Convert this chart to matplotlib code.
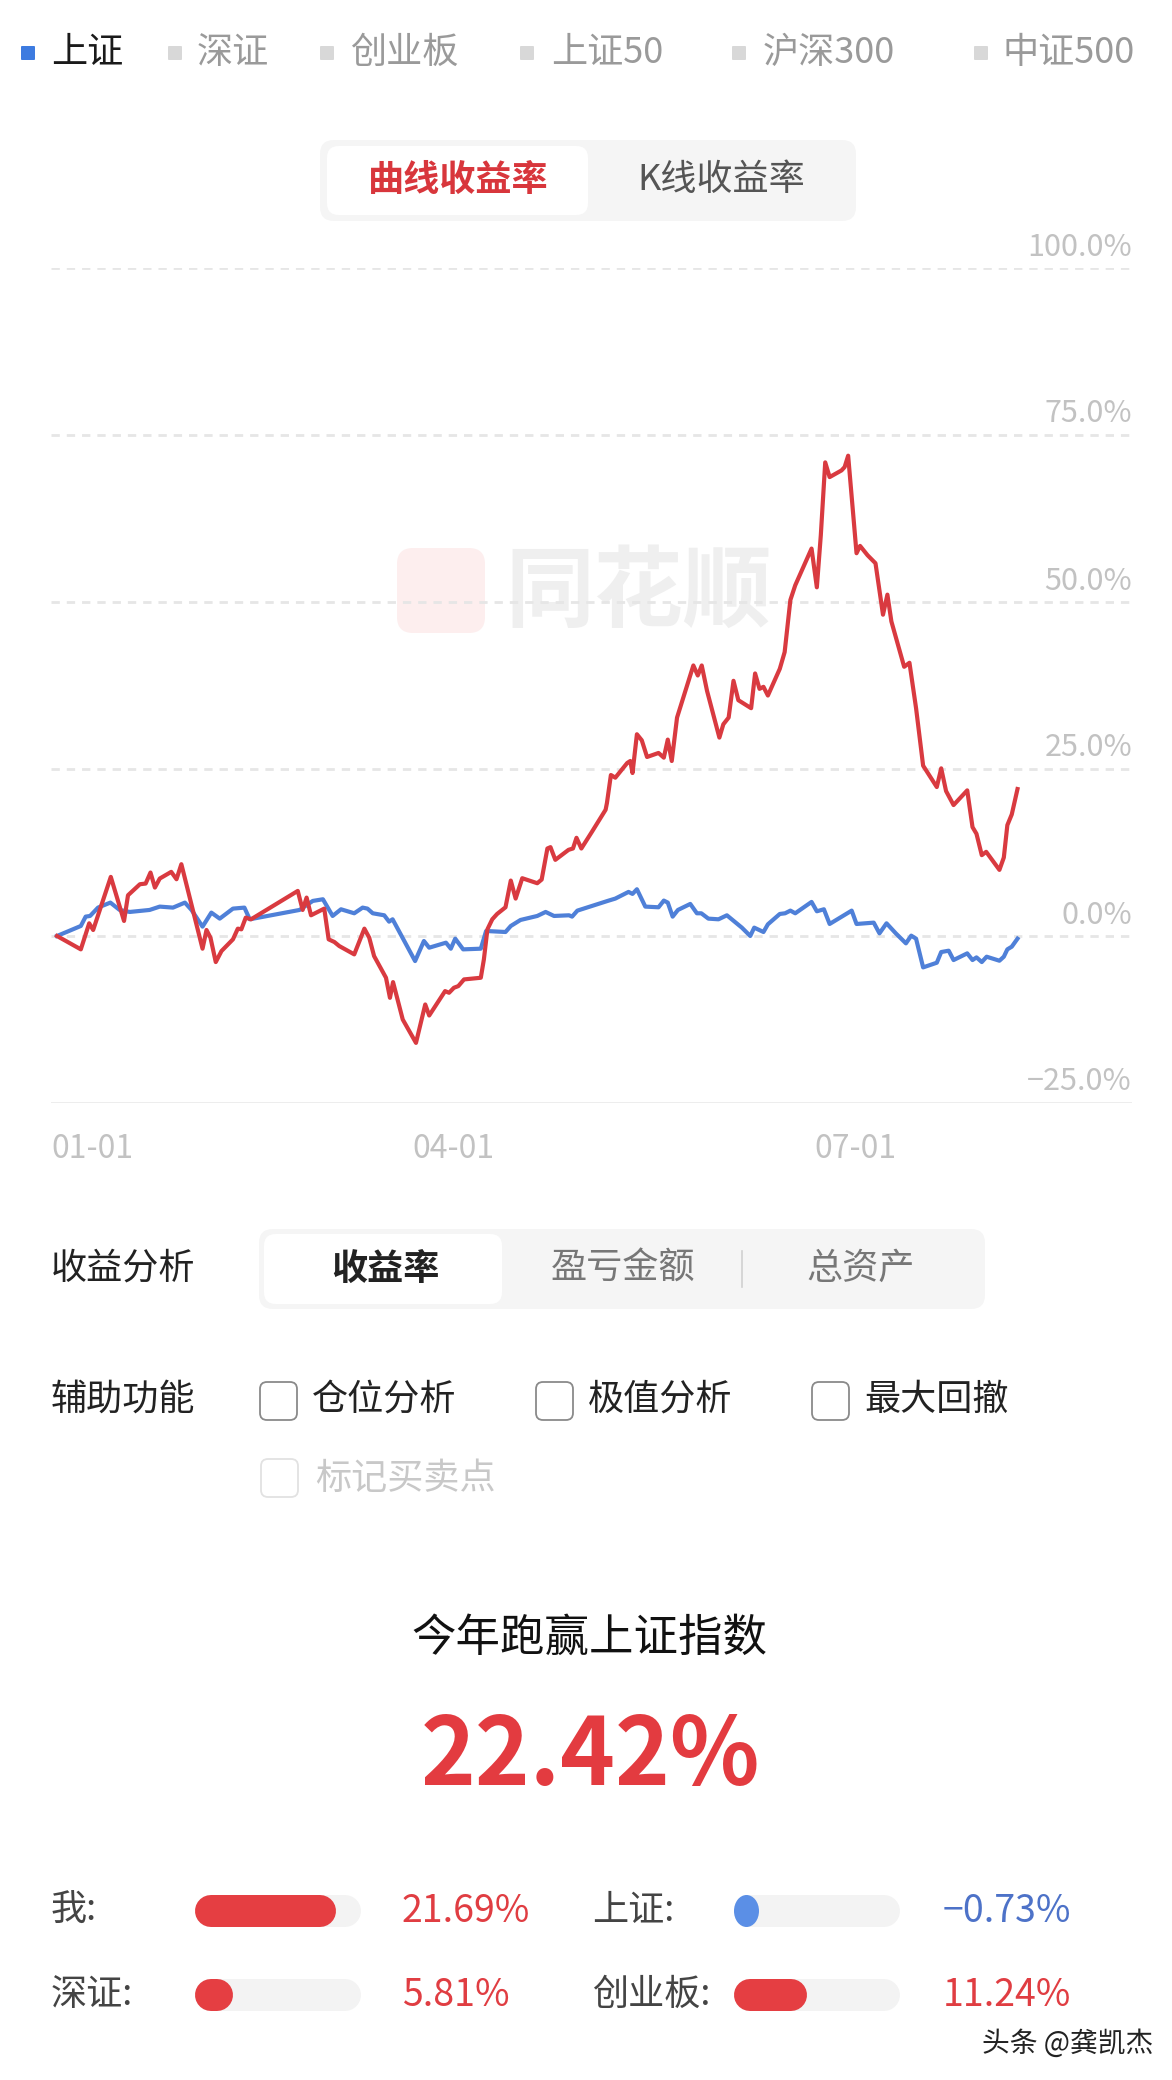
import matplotlib
matplotlib.use("Agg")
import matplotlib.pyplot as plt
from matplotlib.patches import FancyBboxPatch, Ellipse
from matplotlib.transforms import IdentityTransform, blended_transform_factory, offset_copy

plt.rcParams['font.family'] = ['Noto Sans CJK SC', 'DejaVu Sans']

W, H = 1172, 2080

# ---- data ----
index_names = ['上证', '深证', '创业板', '上证50', '沪深300', '中证500']
mode_tabs = ['曲线收益率', 'K线收益率']
analysis_tabs = ['收益率', '盈亏金额', '总资产']
aux_options = ['仓位分析', '极值分析', '最大回撤']
extra_option = '标记买卖点'
date_labels = ['01-01', '04-01', '07-01']
date_ticks = [0, 90, 181]
y_ticks = [-25, 0, 25, 50, 75, 100]

# 我的收益率 (day of year, %)
mine_days = [0, 5.4, 7.3, 8.2, 12.2, 15.2, 16.1, 18.8, 20.1, 21.2, 22.2, 23.3, 25.9, 27.1, 28.2,
             33.0, 33.9, 34.8, 36.0, 37.3, 39.9, 41.0, 41.8, 42.8, 44.0, 54.6, 55.7, 56.6, 57.6,
             60.6, 61.6, 62.9, 64.0, 67.4, 69.7, 70.8, 71.9, 74.6, 75.5, 76.2, 78.4, 81.4, 83.5,
             84.4, 88.0, 88.9, 90.0, 91.0, 92.3, 96.1, 96.8, 97.6, 98.7, 99.8, 101.7, 102.9,
             104.0, 105.5, 108.9, 109.9, 111.2, 111.9, 113.0, 116.0, 117.0, 117.8, 118.9, 121.3,
             124.4, 124.7, 125.6, 126.6, 129.3, 130.0, 130.5, 131.5, 132.6, 133.8, 136.4, 137.6,
             138.5, 139.4, 140.6, 144.3, 145.3, 146.2, 147.4, 150.2, 151.1, 152.3, 153.4, 154.5,
             157.4, 158.3, 159.3, 160.2, 161.2, 163.9, 165.0, 166.3, 167.4, 171.1, 172.3, 173.2,
             174.2, 175.2, 177.9, 178.6, 179.4, 181.3, 182.1, 183.8, 185.6, 187.3, 188.3, 189.2,
             190.6, 192.1, 193.3, 194.8, 196.4, 199.5, 200.5, 201.6, 203.3, 206.4, 207.6, 208.5,
             209.7, 210.7, 213.7, 214.7, 215.5, 216.5, 217.8]
mine_ret = [0, -2.0, 1.9, 0.9, 8.85, 2.25, 6.1, 7.75, 7.85, 9.5, 7.25, 8.6, 9.6, 8.5, 10.75,
            -1.9, 0.9, -0.25, -3.9, -2.25, -0.5, 1.1, 1.0, 2.75, 2.5, 6.75, 3.9, 5.75, 3.1,
            4.1, -0.5, -0.9, -1.5, -2.75, 1.1, -0.25, -3.0, -6.25, -9.25, -6.9, -12.5, -16.0, -10.25,
            -11.9, -8.25, -8.5, -7.75, -7.5, -6.5, -6.25, -3.5, 1.0, 2.5, 3.3, 4.3, 8.3,
            5.6, 8.65, 7.9, 8.45, 13.1, 13.3, 11.4, 12.9, 13.1, 14.7, 13.1, 15.6,
            18.9, 19.9, 24.1, 23.7, 25.9, 26.2, 24.4, 30.2, 29.3, 26.8, 27.4, 26.7,
            29.4, 26.2, 32.7, 40.5, 39.0, 40.5, 36.7, 29.7, 31.7, 32.7, 38.2, 35.3,
            34.1, 39.3, 37.0, 37.3, 36.0, 40.0, 42.5, 50.3, 52.5, 58.0, 52.2, 60.0,
            70.9, 68.7, 69.7, 70.2, 71.9, 57.3, 58.4, 57.0, 55.8, 48.1, 51.1, 47.1,
            43.8, 40.3, 40.9, 34.1, 25.5, 22.3, 25.1, 21.7, 19.6, 21.8, 16.3, 15.3,
            12.1, 12.6, 9.9, 11.75, 16.6, 18.2, 22.0]

# 上证 (day of year, %)
sh_days = [0, 5.4, 6.5, 7.5, 9.3, 12.1, 14.2, 16.5, 21.0, 23.3, 26.3, 29.0, 30.5, 33.0, 35.0,
           36.9, 39.9, 42.5, 43.7, 55.0, 58.0, 60.3, 62.5, 64.4, 67.4, 69.3, 70.4, 71.6, 74.2,
           75.3, 76.1, 81.2, 83.2, 84.4, 88.2, 89.3, 90.3, 92.1, 96.1, 97.3, 101.7, 102.9, 105.1,
           108.9, 110.8, 112.7, 116.1, 116.8, 118.0, 125.1, 126.6, 129.6, 130.5, 131.5, 133.4,
           136.4, 137.6, 138.5, 139.6, 140.8, 143.6, 145.1, 146.1, 147.7, 150.0, 151.9, 155.3,
           157.2, 158.1, 160.2, 161.2, 163.9, 165.1, 166.3, 167.4, 171.1, 172.3, 173.9, 175.2,
           180.2, 181.3, 185.2, 186.5, 188.1, 190.2, 192.5, 193.7, 194.8, 196.4, 199.5, 200.5,
           202.2, 203.3, 206.4, 207.6, 208.5, 209.7, 210.8, 213.7, 214.7, 215.5, 216.5, 217.8]
sh_ret = [0, 1.5, 2.9, 3.0, 4.25, 5.0, 3.9, 3.6, 3.9, 4.4, 4.25, 5.0, 3.9, 1.4, 3.5,
          2.6, 4.1, 4.25, 2.5, 3.9, 5.25, 5.5, 3.0, 4.0, 3.4, 4.25, 4.1, 3.4, 3.1,
          2.15, 2.5, -3.75, -0.75, -1.75, -1.0, -1.9, -0.4, -2.0, -1.9, 0.75, 0.6, 1.5, 2.4,
          3.0, 3.6, 3.0, 3.1, 2.9, 3.8, 5.3, 5.6, 6.6, 6.3, 7.0, 4.4,
          4.3, 5.3, 5.0, 2.9, 3.9, 4.8, 3.4, 3.4, 2.6, 2.5, 3.1, 1.25,
          0.0, 1.25, 0.6, 1.75, 3.3, 3.4, 3.8, 3.4, 5.1, 3.7, 4.0, 1.8,
          3.8, 1.8, 2.0, 0.4, 1.9, 0.4, -1.1, 0.05, -0.4, -4.7, -4.0, -2.4,
          -2.2, -3.6, -2.6, -3.6, -3.2, -3.9, -3.1, -3.7, -3.1, -2.0, -1.6, -0.4]

beat_title = '今年跑赢上证指数'
beat_value = 22.42
compare_names = ['我', '上证', '深证', '创业板']
compare_values = [21.69, -0.73, 5.81, 11.24]
bar_full = 25.5

RED = '#d93a40'
BLUE = '#4f80d8'

fig = plt.figure(figsize=(W / 100, H / 100), dpi=100)
fig.patch.set_facecolor('white')


def ftext(x, y, s, **kw):
    kw.setdefault('va', 'center')
    return fig.text(x / W, 1 - y / H, s, **kw)


def pbox(x0, y0, x1, y1, fc, r, ec='none', lw=0, z=1):
    p = FancyBboxPatch((x0, H - y1), x1 - x0, y1 - y0,
                       boxstyle=f'round,pad=0,rounding_size={r}',
                       transform=IdentityTransform(), fc=fc, ec=ec, lw=lw, zorder=z)
    fig.add_artist(p)
    return p


# ---- legend row ----
leg_sq = [21, 168, 320, 520, 732, 974]
leg_tx = [51, 197, 350, 551, 763, 1003]
for i, name in enumerate(index_names):
    col = '#3d7be0' if i == 0 else '#d8d8d8'
    pbox(leg_sq[i], 46, leg_sq[i] + 14, 60, col, 1)
    ftext(leg_tx[i], 53, name, fontsize=26, color='#1a1a1a' if i == 0 else '#9a9a9a')

# ---- mode toggle ----
pbox(320, 140, 856, 221, '#f5f5f5', 14)
pbox(327, 146, 588, 215, 'white', 12)
ftext(458, 180, mode_tabs[0], fontsize=26, color='#d8363c', weight='bold', ha='center')
ftext(721, 180, mode_tabs[1], fontsize=26, color='#555555', ha='center')

# ---- main chart ----
px_day = 4.41
x0_px, x1_px, xs_px = 51, 1132, 57
ytop, ybot = 268, 1103
ax = fig.add_axes([x0_px / W, 1 - ybot / H, (x1_px - x0_px) / W, (ybot - ytop) / H])
ax.set_xlim((x0_px - xs_px) / px_day, (x1_px - xs_px) / px_day)
ax.set_ylim(-25, 100)
ax.axis('off')

# watermark
wm = FancyBboxPatch((397, H - 633), 88, 85, boxstyle='round,pad=0,rounding_size=16',
                    transform=IdentityTransform(), fc='#fdeeee', ec='none', zorder=0)
ax.add_patch(wm)
ax.text(639, H - 594, '同花顺', transform=IdentityTransform(), fontsize=64, weight='bold',
        color='#efefef', ha='center', va='center', zorder=0)

for v in y_ticks:
    if v == y_ticks[0]:
        ax.axhline(v, color='#ebebeb', lw=2, zorder=1)
    else:
        ax.axhline(v, color='#e6e6e6', lw=2, dashes=(3, 2.5), zorder=1)
    lab_tr = offset_copy(blended_transform_factory(ax.transAxes, ax.transData),
                         fig=fig, x=0, y=21, units='dots')
    ax.text(1.0, v, f'{v:.1f}%'.replace('-', '−'), transform=lab_tr, ha='right', va='center',
            fontsize=22, color='#c2c2c2')

xl_tr = offset_copy(blended_transform_factory(ax.transData, ax.transAxes),
                    fig=fig, x=0, y=-46, units='dots')
for i, (d, lab) in enumerate(zip(date_ticks, date_labels)):
    if i == 0:
        ax.text(ax.get_xlim()[0], 0, lab, transform=xl_tr, ha='left', va='center',
                fontsize=23, color='#c2c2c2')
    else:
        ax.text(d, 0, lab, transform=xl_tr, ha='center', va='center',
                fontsize=23, color='#c2c2c2')

ax.plot(sh_days, sh_ret, color=BLUE, lw=3, zorder=3)
ax.plot(mine_days, mine_ret, color=RED, lw=3, zorder=4)

# ---- 收益分析 ----
ftext(51, 1269, '收益分析', fontsize=26, color='#222222')
pbox(259, 1229, 985, 1309, '#f5f5f5', 14)
pbox(264, 1234, 502, 1304, 'white', 12)
tab_x = [385, 623, 861]
for i, t in enumerate(analysis_tabs):
    if i == 0:
        ftext(tab_x[i], 1269, t, fontsize=26, color='#222222', weight='bold', ha='center')
    else:
        ftext(tab_x[i], 1269, t, fontsize=26, color='#777777', ha='center')
fig.add_artist(plt.Line2D([742, 742], [H - 1251, H - 1287], transform=IdentityTransform(),
                          color='#d0d0d0', lw=1.2))

# ---- 辅助功能 ----
ftext(51, 1400, '辅助功能', fontsize=26, color='#222222')
cb_x = [259, 535, 811]
for i, t in enumerate(aux_options):
    pbox(cb_x[i] + 1, 1382, cb_x[i] + 38, 1420, 'white', 7, ec='#8a8a8a', lw=1.3)
    ftext(cb_x[i] + 53, 1400, t, fontsize=26, color='#222222')
pbox(261, 1459, 298, 1497, 'white', 7, ec='#e2e2e2', lw=1.3)
ftext(315, 1479, extra_option, fontsize=26, color='#c8c8c8')

# ---- summary ----
ftext(589, 1638, beat_title, fontsize=32, color='#111111', ha='center')
ftext(590, 1757, f'{beat_value:.2f}%', fontsize=67, color='#e33b40', weight='bold', ha='center')

row_y = [1911, 1911, 1995, 1995]
lab_x = [51, 592, 51, 592]
trk_x = [195, 734, 195, 734]
val_x = [402, 943, 402, 943]
trk_w, trk_h = 166, 32
for i, (name, v) in enumerate(zip(compare_names, compare_values)):
    yc = row_y[i]
    ftext(lab_x[i], yc, name + ':', fontsize=26, color='#444444')
    bax = fig.add_axes([trk_x[i] / W, 1 - (yc + trk_h / 2) / H, trk_w / W, trk_h / H])
    bax.set_xlim(0, bar_full)
    bax.set_ylim(-1, 1)
    bax.axis('off')
    r = (trk_h / 2) / (trk_w / bar_full)
    lw_pt = trk_h * 0.72
    bax.plot([r, bar_full - r], [0, 0], color='#f3f3f3', lw=lw_pt, solid_capstyle='round',
             zorder=1)
    if v > 0:
        end = max(v, 2 * r + 0.01)
        bax.plot([r, end - r], [0, 0], color='#e53e42', lw=lw_pt, solid_capstyle='round',
                 zorder=2)
        tcol = '#e03d42'
    else:
        dw = 25 / (trk_w / bar_full)
        bax.add_patch(Ellipse((dw / 2, 0), dw, 2, color='#5b8fe6', lw=0, zorder=3))
        tcol = '#4d72c8'
    ftext(val_x[i], yc, f'{v:.2f}%'.replace('-', '−'), fontsize=27, color=tcol)

ftext(1153, 2044, '头条 @龚凯杰', fontsize=20, color='#222222', ha='right')

fig.savefig('out.png', dpi=100)
